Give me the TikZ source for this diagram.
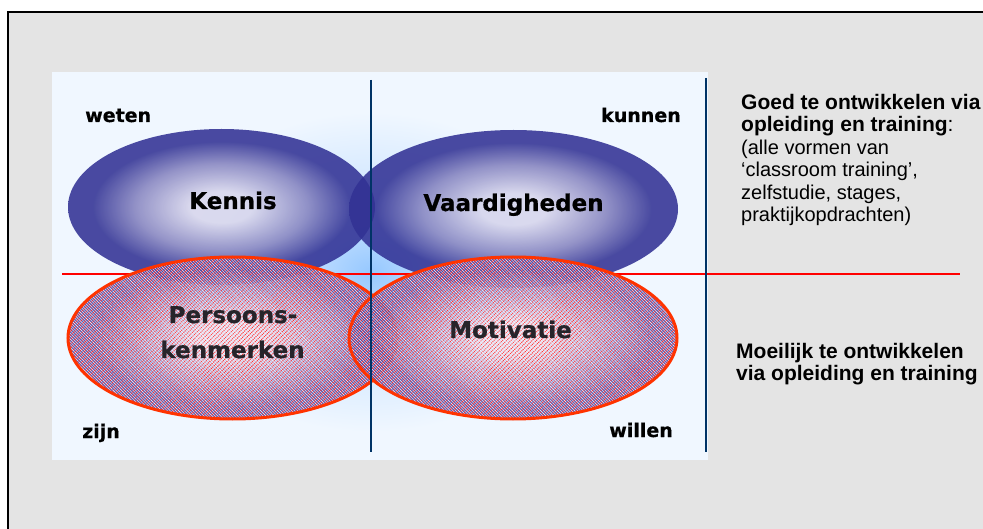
\documentclass[tikz,border=0pt]{standalone}
\usepackage{fontspec}
\setmainfont{Liberation Sans}
\newfontfamily\heavyfont[FakeBold=0.6]{DejaVu Sans Bold}
\usetikzlibrary{shapes.geometric,patterns.meta}

\definecolor{bggray}{RGB}{228,228,228}
\definecolor{panelbg}{RGB}{240,247,255}
\definecolor{glow}{RGB}{150,200,255}
\definecolor{glowmid}{RGB}{200,226,255}
\definecolor{blobin}{RGB}{216,214,236}
\definecolor{blobmid}{RGB}{135,133,192}
\definecolor{blobout}{RGB}{50,50,148}
\definecolor{hatchin}{RGB}{226,216,238}
\definecolor{hatchmid}{RGB}{148,140,202}
\definecolor{hatchout}{RGB}{78,70,165}
\definecolor{rimred}{RGB}{255,51,0}
\definecolor{axisblue}{RGB}{0,51,102}
\definecolor{inktext}{RGB}{38,36,42}

% radial fills: the 25bp ring meets the outline of the shaded path
\pgfdeclareradialshading{blobshade}{\pgfpointorigin}{color(0bp)=(blobin); color(5bp)=(blobin); color(14bp)=(blobmid); color(21bp)=(blobout); color(50bp)=(blobout)}
\pgfdeclareradialshading{hatchshade}{\pgfpointorigin}{color(0bp)=(hatchin); color(5bp)=(hatchin); color(14bp)=(hatchmid); color(21bp)=(hatchout); color(50bp)=(hatchout)}
\pgfdeclareradialshading{glowshade}{\pgfpointorigin}{color(0bp)=(glow); color(9bp)=(glowmid); color(25bp)=(panelbg); color(50bp)=(panelbg)}

\begin{document}
\begin{tikzpicture}[x=1pt,y=-1pt,
  blob/.style={ellipse, inner sep=0pt, shade, shading=blobshade, fill opacity=.88},
  hatchblob/.style={ellipse, inner sep=0pt, shade, shading=hatchshade, fill opacity=.86,
    postaction={pattern={Lines[angle=45,distance=3pt,line width=.6pt]}, pattern color=red!85!white, fill opacity=.17},
    postaction={pattern={Lines[angle=-45,distance=2pt,line width=.4pt]}, pattern color=white, fill opacity=.25},
    postaction={draw=rimred, line width=3pt}},
  lbl/.style={font=\heavyfont\fontsize{19}{23}\selectfont, inner sep=0pt},
  biglbl/.style={font=\heavyfont\fontsize{23}{28}\selectfont, inner sep=0pt},
  hatchlbl/.style={biglbl, text=inktext},
  axis/.style={draw=axisblue, line width=1.5pt},
  note/.style={font=\fontsize{20}{22.5}\selectfont, align=left, inner sep=0pt, anchor=north west},
  strong/.style={font=\bfseries\fontsize{21}{22.5}\selectfont, align=left, inner sep=0pt, anchor=north west}]

\useasboundingbox (0,0) rectangle (983,529);
\clip (0,0) rectangle (983,529);
\fill[white] (0,0) rectangle (983,529);
\draw[fill=bggray, line width=1.2pt] (8,12) rectangle (1000,545);

% light panel with a blue glow around its middle
\fill[panelbg] (52,72) rectangle (708,460);
\begin{scope}
  \clip (52,72) rectangle (708,460);
  \shade[shading=glowshade] (371,272) ellipse [x radius=210, y radius=160];
\end{scope}

% upper pair
\node[blob, minimum width=307pt, minimum height=156pt] (kennis) at (221.5,207) {};
\node[blob, minimum width=329pt, minimum height=158pt] (vaard) at (513.5,209) {};

% dividing line
\coordinate (hl) at (62,274);
\coordinate (hr) at (960,274);
\draw[red, line width=1.2pt] (hl) -- (hr);

% lower pair
\node[hatchblob, minimum width=329pt, minimum height=162pt] (pers) at (232.5,338) {};
\node[hatchblob, minimum width=328pt, minimum height=162pt] (motiv) at (513,338) {};

% axes
\coordinate (ct) at (371,80);
\coordinate (cb) at (371,452);
\coordinate (rt) at (706,78);
\coordinate (rb) at (706,452);
\draw[axis] (ct) -- (cb);
\draw[axis] (rt) -- (rb);

% labels
\node[lbl, anchor=base west] (weten) at (85,122) {weten};
\node[lbl, anchor=base east] (kunnen) at (681,122) {kunnen};
\node[lbl, anchor=base west] (zijn) at (82,438) {zijn};
\node[lbl, anchor=base east] (willen) at (673,437) {willen};

\node[biglbl, anchor=base] (tk) at (233,209) {Kennis};
\node[biglbl, anchor=base] (tv) at (513.5,211) {Vaardigheden};
\node[hatchlbl, anchor=base] (tp1) at (233,323) {Persoons-};
\node[hatchlbl, anchor=base] (tp2) at (232.5,358) {kenmerken};
\node[hatchlbl, anchor=base] (tm) at (510.5,338) {Motivatie};

% side notes
\node[strong] (goed) at (741,94) {Goed te ontwikkelen via\\
  opleiding en training\textmd{:}};
\node[note] (goedlist) at (741,139.5) {(alle vormen van\\
  `classroom training',\\
  zelfstudie, stages,\\
  praktijkopdrachten)};
\node[strong] (moei) at (736,343) {Moeilijk te ontwikkelen\\
  via opleiding en training};
\end{tikzpicture}
\end{document}
